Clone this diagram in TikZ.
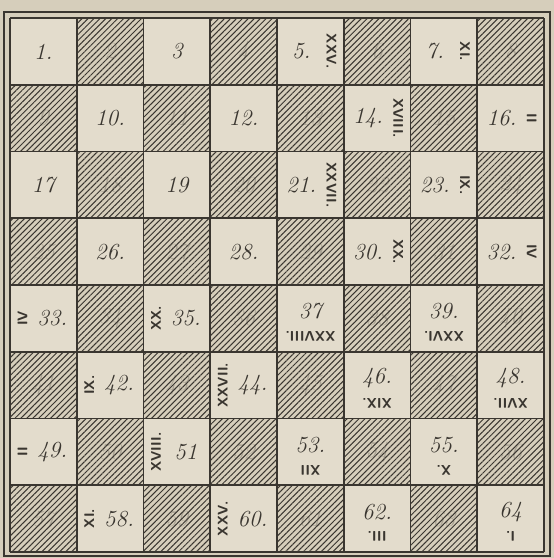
\documentclass[tikz,border=0pt]{standalone}
\usepackage{fontspec}
\usepackage{tikz}
\usetikzlibrary{patterns.meta}
\definecolor{paper}{RGB}{214,206,187}
\definecolor{lightsq}{RGB}{227,220,204}
\definecolor{ink}{RGB}{58,54,48}
\tikzset{
  gridline/.style={draw=ink, line width=1.7pt},
  hatch/.style={pattern={Lines[angle=45,distance=4.2pt,line width=1pt]}, pattern color=ink},
  num/.style={font=\fontsize{23}{23}\selectfont\itshape, text=ink, inner sep=0pt},
  faintnum/.style={num, text opacity=0.28},
  roman/.style={font=\fontsize{14}{14}\selectfont\sffamily\bfseries, text=ink, inner sep=0pt},
  numc/.style={num}, numr/.style={num, xshift=-9pt},
  numl/.style={num, xshift=9pt}, numb/.style={num, yshift=7pt},
  romc/.style={roman}, romr/.style={roman, xshift=21pt, rotate=-90},
  roml/.style={roman, xshift=-21pt, rotate=90}, romb/.style={roman, yshift=-18pt, rotate=180}
}
\begin{document}
\begin{tikzpicture}[x=1pt,y=-1pt]
\useasboundingbox[fill=paper] (0,0) rectangle (554,558);
% squares of the board
\foreach \n in {1,...,64}{
  \pgfmathtruncatemacro\row{(\n-1)/8}
  \pgfmathtruncatemacro\col{mod(\n-1,8)}
  \pgfmathtruncatemacro\dark{mod(\row+\col,2)}
  \ifnum\dark=1
    \fill[hatch] (10+66.75*\col,18+66.75*\row) rectangle +(66.75,66.75);
    \node[faintnum] (n\n) at (10+66.75*\col+33.4,18+66.75*\row+33.4) {\n};
  \else
    \fill[lightsq] (10+66.75*\col,18+66.75*\row) rectangle +(66.75,66.75);
  \fi
}
% grid and frame
\foreach \i in {0,...,8}{
  \draw[gridline] (10+66.75*\i,18) -- (10+66.75*\i,552);
  \draw[gridline] (10,18+66.75*\i) -- (544,18+66.75*\i);
}
\draw[ink, line width=1.2pt] (4,12) rectangle (550,556);
% numbers on the white squares
\foreach \n/\t/\s/\rom in {
  1/1./c/{}, 3/3/c/{}, 5/5./r/XXV., 7/7./r/XI.,
  10/10./c/{}, 12/12./c/{}, 14/14./r/XVIII., 16/16./r/II,
  17/17/c/{}, 19/19/c/{}, 21/21./r/XXVII., 23/23./r/IX.,
  26/26./c/{}, 28/28./c/{}, 30/30./r/XX., 32/32./r/IV,
  33/33./l/IV, 35/35./l/XX., 37/37/b/XXVIII., 39/39./b/XXVI.,
  42/42./l/IX., 44/44./l/XXVII., 46/46./b/XIX., 48/48./b/XVII.,
  49/49./l/II, 51/51/l/XVIII., 53/53./b/XII, 55/55./b/X.,
  58/58./l/XI., 60/60./l/XXV., 62/62./b/III., 64/64/b/I.}{
  \pgfmathtruncatemacro\row{(\n-1)/8}
  \pgfmathtruncatemacro\col{mod(\n-1,8)}
  \node[num\s] (n\n) at (10+66.75*\col+33.4,18+66.75*\row+33.4) {\t};
  \node[rom\s] (r\n) at (10+66.75*\col+33.4,18+66.75*\row+33.4) {\rom};
}
\end{tikzpicture}
\end{document}
